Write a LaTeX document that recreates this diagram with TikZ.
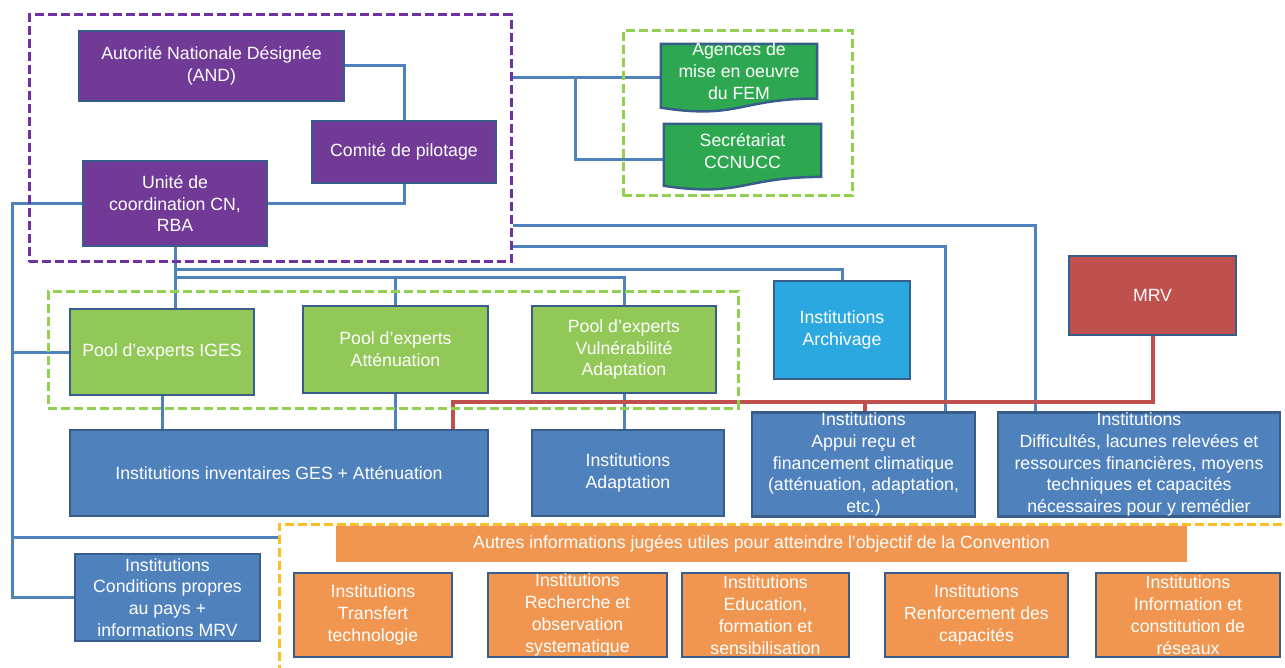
\documentclass[tikz,border=0pt]{standalone}
\usepackage{fontspec}
\setmainfont{Liberation Sans}
\usetikzlibrary{calc,backgrounds}
\definecolor{bord}{RGB}{56,93,138}
\definecolor{conb}{RGB}{79,129,189}
\definecolor{purf}{RGB}{112,58,150}
\definecolor{lgrf}{RGB}{146,200,88}
\definecolor{dgrf}{RGB}{45,168,80}
\definecolor{cyaf}{RGB}{44,168,224}
\definecolor{redf}{RGB}{192,80,77}
\definecolor{bluf}{RGB}{79,129,189}
\definecolor{oraf}{RGB}{240,150,80}
\definecolor{purd}{RGB}{112,48,160}
\definecolor{grnd}{RGB}{146,208,80}
\definecolor{orad}{RGB}{250,190,40}
\begin{document}
\begin{tikzpicture}[x=1pt,y=-1pt,
  font=\fontsize{17.7}{21.8}\selectfont,
  box/.style={draw=bord, line width=2.5pt, text=white, align=center, inner sep=1pt},
  sz/.style 2 args={minimum width=#1pt, minimum height=#2pt},
  conn/.style={draw=conb, line width=3pt},
  redc/.style={draw=redf, line width=4pt},
  grpbox/.style={line width=3pt, dash pattern=on 9pt off 4pt, inner sep=0pt},
  docst/.style={fill=dgrf, draw=bord, line width=2.5pt},
  txt/.style={text=white, align=center, inner sep=0pt}]
\useasboundingbox (0,0) rectangle (1285,668);

% group boxes
\node[grpbox, draw=purd, sz={482}{247}] (grp) at (270,138.5) {};
\node[grpbox, draw=grnd, sz={229}{165}] (gt) at (737.5,113.5) {};
\node[grpbox, draw=grnd, sz={690}{116}] (gm) at (393,350) {};
\node[grpbox, draw=orad, sz={1031}{176}] (og) at (794.5,612) {};

% boxes
\node[box, fill=purf, sz={265}{70}] (and) at (211.5,66) {Autorité Nationale Désignée\\(AND)};
\node[box, fill=purf, sz={184}{62}] (comite) at (404,152) {Comité de pilotage};
\node[box, fill=purf, sz={184}{85}] (unite) at (175,203.5) {Unité de\\coordination CN,\\RBA};

\node[inner sep=0pt, sz={156}{68}] (ag) at (739,78) {};
\filldraw[docst] (ag.north west) -- (ag.north east) -- ($(ag.north east)!0.8!(ag.south east)$)
  .. controls ($(ag.north)!0.8!(ag.south)$) and ($(ag.north)!1.11!(ag.south)$) .. ($(ag.north west)!0.934!(ag.south west)$) -- cycle;
\node[txt] (agt) at ([yshift=7pt]ag.center) {Agences de\\mise en oeuvre\\du FEM};

\node[inner sep=0pt, sz={157}{66}] (sec) at (742.5,157) {};
\filldraw[docst] (sec.north west) -- (sec.north east) -- ($(sec.north east)!0.8!(sec.south east)$)
  .. controls ($(sec.north)!0.8!(sec.south)$) and ($(sec.north)!1.11!(sec.south)$) .. ($(sec.north west)!0.934!(sec.south west)$) -- cycle;
\node[txt] (sect) at ([yshift=6pt]sec.center) {Secrétariat\\CCNUCC};

\node[box, fill=lgrf, sz={184}{86}] (iges) at (162,352) {Pool d’experts IGES};
\node[box, fill=lgrf, sz={185}{87}] (patt) at (395.5,349.5) {Pool d’experts\\Atténuation};
\node[box, fill=lgrf, sz={184}{87}] (pvul) at (624,349.5) {Pool d’experts\\Vulnérabilité\\Adaptation};
\node[box, fill=cyaf, sz={136}{98}] (arch) at (842,330) {Institutions\\Archivage};
\node[box, fill=redf, sz={167}{79}] (mrv) at (1152.5,295.5) {MRV};

\node[box, fill=bluf, sz={418}{86}] (inv) at (279,473) {Institutions inventaires GES + Atténuation};
\node[box, fill=bluf, sz={192}{86}] (adapt) at (628,473) {Institutions\\Adaptation};
\node[box, fill=bluf, sz={223}{103}, inner sep=0pt] (appui) at (863.5,464.5) {Institutions\\Appui reçu et\\financement climatique\\(atténuation, adaptation,\\etc.)};
\node[box, fill=bluf, sz={282}{103}, inner sep=0pt] (diff) at (1139,464.5) {Institutions\\Difficultés, lacunes relevées et\\ressources financières, moyens\\techniques et capacités\\nécessaires pour y remédier};

\node[fill=oraf, text=white, sz={851}{36}, inner sep=0pt] (autres) at (761.5,544) {Autres informations jugées utiles pour atteindre l’objectif de la Convention};
\node[box, fill=bluf, sz={185}{87}] (cond) at (167.5,597.5) {Institutions\\Conditions propres\\au pays +\\informations MRV};
\node[box, fill=oraf, sz={158}{84}] (trans) at (373,615) {Institutions\\Transfert\\technologie};
\node[box, fill=oraf, sz={179}{84}] (rech) at (577.5,615) {Institutions\\Recherche et\\observation\\systematique};
\node[box, fill=oraf, sz={167}{84}] (educ) at (765.5,615) {Institutions\\Education,\\formation et\\sensibilisation};
\node[box, fill=oraf, sz={183}{84}] (renf) at (976.5,615) {Institutions\\Renforcement des\\capacités};
\node[box, fill=oraf, sz={184}{84}] (info) at (1188,615) {Institutions\\Information et\\constitution de\\réseaux};

% connectors
\begin{scope}[on background layer]
\draw[conn] (and.east) -| (comite.north);
\draw[conn] (comite.south) |- (unite.east);
\coordinate (busx) at (12,0);
\draw[conn] (unite.west) -- (unite.west -| busx) -- (cond.west -| busx) -- (cond.west);
\draw[conn] (iges.west -| busx) -- (iges.west);
\coordinate (ogl) at ([yshift=-15pt]og.north west);
\draw[conn] (ogl -| busx) -- (ogl);

\coordinate (gtop) at (ag.west -| grp.east);
\draw[conn] (gtop) -- (ag.west);
\coordinate (j1x) at (575,0);
\coordinate (secw) at ([yshift=-3pt]sec.west);
\draw[conn] (ag.west -| j1x) |- (secw);

\draw[conn] (unite.south) -- (unite.south |- iges.north);
\coordinate (h1) at ([yshift=-22pt]unite.south);
\coordinate (h2) at ([yshift=-30pt]unite.south);
\draw[conn] (h1) -| (arch.north);
\draw[conn] (h2) -| (pvul.north);
\draw[conn] (h2 -| patt.north) -- (patt.north);

\draw[conn] ([yshift=-212pt]grp.north east) -| ([xshift=39pt]diff.north west);
\draw[conn] ([yshift=-233pt]grp.north east) -| ([xshift=195pt]appui.north west);

\draw[conn] (iges.south) -- (iges.south |- inv.north);
\draw[conn] (patt.south) -- (patt.south |- inv.north);
\draw[conn] (pvul.south) -- (pvul.south |- adapt.north);

\coordinate (rl) at ([xshift=384pt]inv.north west);
\coordinate (ra) at ([xshift=114pt]appui.north west);
\coordinate (ry) at (0,402);
\draw[redc] (mrv.south) -- (mrv.south |- ry) -- (rl |- ry) -- (rl);
\draw[redc] (ra |- ry) -- (ra);
\end{scope}
\end{tikzpicture}
\end{document}
